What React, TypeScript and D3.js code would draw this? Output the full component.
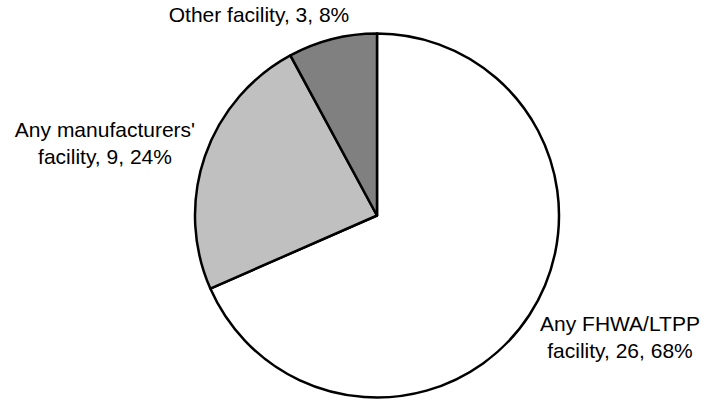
import * as d3 from "d3";
import { useEffect } from "react";

// Facility where testing took place
const categories = ["Any FHWA/LTPP facility", "Any manufacturers' facility", "Other facility"];
const counts = [26, 9, 3];
const percents = [68, 24, 8];
const labelLines = [
  ["Any FHWA/LTPP", "facility, 26, 68%"],
  ["Any manufacturers'", "facility, 9, 24%"],
  ["Other facility, 3, 8%"],
];

const fills = ["#ffffff", "#c0c0c0", "#808080"];
// label anchors (centre x, first baseline y)
const labelPos: [number, number][] = [
  [620, 331],
  [105, 137],
  [259, 22],
];

const W = 706;
const H = 402;
const cx = 377;
const cy = 215.5;
const R = 182;

export default function App() {
  useEffect(() => {
    document.body.style.margin = "0";
  }, []);

  const pie = d3
    .pie<number>()
    .sort(null)
    .value((d) => d);
  const arcs = pie(counts);
  const arc = d3.arc<d3.PieArcDatum<number>>().innerRadius(0).outerRadius(R);

  return (
    <svg
      width={W}
      height={H}
      viewBox={`0 0 ${W} ${H}`}
      style={{ display: "block", background: "#fff" }}
      role="img"
      aria-label="Pie chart of testing facility"
    >
      <g transform={`translate(${cx},${cy})`}>
        {arcs.map((a, i) => (
          <path
            key={categories[i]}
            d={arc(a) ?? ""}
            fill={fills[i]}
            stroke="#000"
            strokeWidth={2.5}
            strokeLinejoin="round"
          />
        ))}
      </g>
      {labelLines.map((lines, i) => (
        <text
          key={i}
          x={labelPos[i][0]}
          y={labelPos[i][1]}
          textAnchor="middle"
          fontFamily="Liberation Sans, Arial, sans-serif"
          fontSize={21}
          fill="#000"
        >
          {lines.map((l, j) => (
            <tspan key={j} x={labelPos[i][0]} dy={j === 0 ? 0 : 27}>
              {l}
            </tspan>
          ))}
          <title>{`${categories[i]}, ${counts[i]}, ${percents[i]}%`}</title>
        </text>
      ))}
    </svg>
  );
}
